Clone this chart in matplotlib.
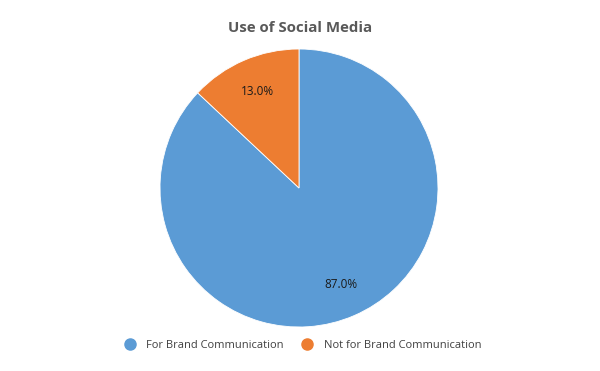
import matplotlib
matplotlib.use("Agg")
import matplotlib.pyplot as plt
from matplotlib.lines import Line2D

labels = ["For Brand Communication", "Not for Brand Communication"]
values = [87.0, 13.0]
colors = ["#5B9BD5", "#ED7D31"]

plt.rcParams["font.family"] = ["Open Sans", "DejaVu Sans"]

fig = plt.figure(figsize=(6, 3.71), dpi=100)
ax = fig.add_axes([160 / 600, 44 / 371, 278 / 600, 278 / 371])

wedges, texts, autotexts = ax.pie(
    values, colors=colors, startangle=90, counterclock=False,
    autopct="%.1f%%", pctdistance=0.76,
    wedgeprops=dict(edgecolor="white", linewidth=0.6),
    textprops=dict(fontsize=8.5, color="#1a1a1a"),
)
ax.set_aspect("equal")
ax.set_xlim(-1, 1)
ax.set_ylim(-1, 1)

fig.text(0.5, 1 - 28 / 371, "Use of Social Media", ha="center", va="center",
         fontsize=10.8, fontweight="bold", color="#595959")

handles = [Line2D([0], [0], marker="o", linestyle="", markersize=8,
                  markerfacecolor=c, markeredgecolor=c) for c in colors]
fig.legend(handles, labels, loc="center", bbox_to_anchor=(0.5, 1 - 345 / 371),
           ncol=2, frameon=False, fontsize=8, handletextpad=0.5,
           columnspacing=1.1, labelcolor="#404040")

fig.savefig("out.png", dpi=100)
